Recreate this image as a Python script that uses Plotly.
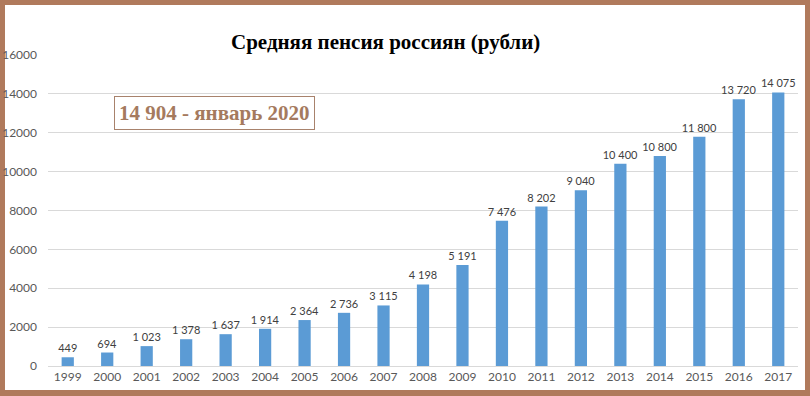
import plotly.graph_objects as go

years = ["1999", "2000", "2001", "2002", "2003", "2004", "2005", "2006", "2007", "2008",
         "2009", "2010", "2011", "2012", "2013", "2014", "2015", "2016", "2017"]
pension = [449, 694, 1023, 1378, 1637, 1914, 2364, 2736, 3115, 4198,
           5191, 7476, 8202, 9040, 10400, 10800, 11800, 13720, 14075]
y_ticks = [0, 2000, 4000, 6000, 8000, 10000, 12000, 14000, 16000]

title_text = "Средняя пенсия россиян (рубли)"
note_text = "14 904 - январь 2020"


def fmt(v):
    return f"{v:,}".replace(",", " ")


labels = [fmt(v) for v in pension]

W, H = 810, 396
L, R, T, B = 48, 12, 55, 30
pw, ph = W - L - R, H - T - B


def px_x(p):
    return (p - L) / pw


def px_y(p):
    return (H - B - p) / ph


fig = go.Figure(go.Bar(
    x=years, y=pension, text=labels, textposition="outside",
    constraintext="none",
    textfont=dict(family="Lato, Liberation Sans, sans-serif", size=11, color="#404040"),
    marker=dict(color="#5b9bd5", line=dict(width=0)),
    cliponaxis=False,
))

fig.update_layout(
    width=W, height=H,
    margin=dict(l=L, r=R, t=T, b=B, autoexpand=False),
    paper_bgcolor="#b07a5c",
    plot_bgcolor="rgba(0,0,0,0)",
    bargap=0.69,
    showlegend=False,
    xaxis=dict(
        type="category", showgrid=False, showline=True, linecolor="#d9d9d9", linewidth=1,
        ticks="", automargin=False,
        tickfont=dict(family="Lato, Liberation Sans, sans-serif", size=12, color="#595959"),
    ),
    yaxis=dict(
        range=[0, 16000], tickvals=y_ticks, ticktext=[str(v) for v in y_ticks],
        showgrid=True, gridcolor="#d9d9d9", gridwidth=1, zeroline=False, automargin=False,
        tickfont=dict(family="Lato, Liberation Sans, sans-serif", size=12, color="#595959"),
        ticklabelstandoff=10,
    ),
    shapes=[dict(
        type="rect", xref="paper", yref="paper", layer="below",
        x0=px_x(5), x1=px_x(805), y0=px_y(390), y1=px_y(5),
        fillcolor="white", line=dict(width=0),
    )],
    annotations=[
        dict(text="<b>" + title_text + "</b>", xref="paper", yref="paper", x=px_x(385), y=px_y(42),
             showarrow=False, xanchor="center", yanchor="middle",
             font=dict(family="Liberation Serif, Times New Roman, serif", size=21, color="#000000"),
             ),
        dict(text="<b>" + note_text + "</b>", xref="paper", yref="paper", x=px_x(214), y=px_y(113),
             showarrow=False, xanchor="center", yanchor="middle",
             font=dict(family="Liberation Serif, Times New Roman, serif", size=21, color="#a57a5e"),
             bordercolor="#a8826c", borderwidth=1, borderpad=4, bgcolor="white"),
    ],
)

fig.write_html("out.html", config={"displayModeBar": False},
               post_script="document.body.style.margin='0';")
